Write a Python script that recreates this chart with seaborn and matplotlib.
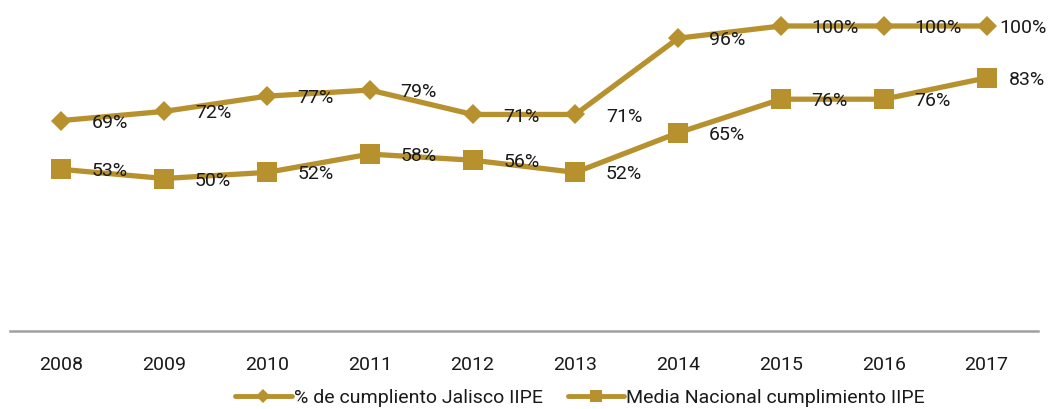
import matplotlib
matplotlib.use("Agg")
import matplotlib.pyplot as plt
import seaborn as sns
import pandas as pd
from matplotlib.lines import Line2D

years = ["2008", "2009", "2010", "2011", "2012", "2013", "2014", "2015", "2016", "2017"]
jalisco = [69, 72, 77, 79, 71, 71, 96, 100, 100, 100]
nacional = [53, 50, 52, 58, 56, 52, 65, 76, 76, 83]
series_names = ["% de cumpliento Jalisco IIPE", "Media Nacional cumplimiento IIPE"]

sns.set_theme(style="white")
plt.rcParams["font.family"] = ["Roboto", "DejaVu Sans"]

df = pd.DataFrame({
    "year": years * 2,
    "value": jalisco + nacional,
    "serie": [series_names[0]] * len(years) + [series_names[1]] * len(years),
})

gold = "#B8912F"
fs = 14
fig = plt.figure(figsize=(10.49, 4.09), dpi=100)
ax = fig.add_axes([10 / 1049, 1 - 331 / 409, 1028 / 1049, (331 - 26) / 409])

sns.lineplot(data=df, x="year", y="value", hue="serie", style="serie",
             palette=[gold, gold], markers={series_names[0]: "D", series_names[1]: "s"},
             dashes=False, linewidth=3.8, markersize=13, markeredgewidth=0,
             ax=ax, legend=False, clip_on=False)
for ln in ax.lines:
    if ln.get_marker() == "D":
        ln.set_markersize(10.5)
    else:
        ln.set_markersize(14)
    ln.set_clip_on(False)

ax.set_xlim(-0.5, len(years) - 0.5)
ax.set_ylim(0, 100)
ax.set_yticks([])
ax.set_xlabel("")
ax.set_ylabel("")
for s in ["top", "left", "right"]:
    ax.spines[s].set_visible(False)
ax.spines["bottom"].set_color("#A0A0A0")
ax.spines["bottom"].set_linewidth(1.8)
ax.tick_params(axis="x", length=0, pad=18, labelsize=fs, labelcolor="#1a1a1a")

n = len(years)
for series in (jalisco, nacional):
    for i, v in enumerate(series):
        dx = 22
        if i == n - 1:
            dx = 9 if series is jalisco else 16
        ax.annotate(f"{v}%", (i, v), xytext=(dx, -1.5), textcoords="offset points",
                    ha="left", va="center", fontsize=fs, color="#1a1a1a",
                    annotation_clip=False)

handles = [
    Line2D([], [], color=gold, lw=3.5, marker="D", markersize=7, markeredgewidth=0),
    Line2D([], [], color=gold, lw=3.5, marker="s", markersize=9, markeredgewidth=0),
]
fig.legend(handles, series_names, loc="center", bbox_to_anchor=(580 / 1049, 1 - 398 / 409),
           ncol=2, frameon=False, fontsize=fs, handlelength=2.9, handletextpad=0.1,
           columnspacing=1.3, labelcolor="#1a1a1a")

fig.savefig("out.png", dpi=100)
